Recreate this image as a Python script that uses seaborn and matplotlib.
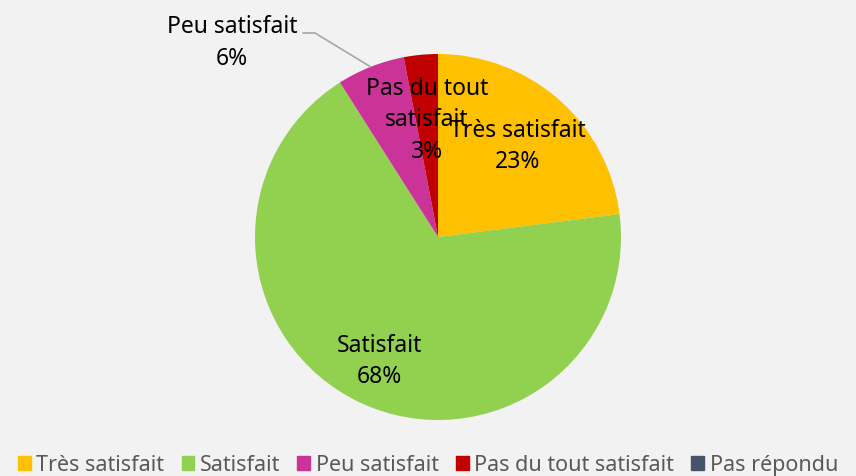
import matplotlib
matplotlib.use("Agg")
import matplotlib.pyplot as plt
import matplotlib.patches as mpatches
import numpy as np
import seaborn as sns

categories = ["Très satisfait", "Satisfait", "Peu satisfait", "Pas du tout satisfait", "Pas répondu"]
values = [23, 68, 6, 3, 0]
inner_labels = ["Très satisfait", "Satisfait", "Peu satisfait", "Pas du tout\nsatisfait", "Pas répondu"]
colors = ["#FFC000", "#92D050", "#CC3399", "#C00000", "#44546A"]

sns.set_theme(style="white")
plt.rcParams["font.family"] = ["Noto Sans", "DejaVu Sans"]
bg = "#F2F2F2"

fig = plt.figure(figsize=(8.56, 4.76), dpi=100, facecolor=bg)
ax = fig.add_axes([0, 0, 1, 1])
ax.set_facecolor(bg)

cx, cy, R = 438, 239, 183
wedges, _ = ax.pie(values, colors=colors, startangle=90, counterclock=False,
                   center=(cx, cy), radius=R, frame=True,
                   wedgeprops=dict(linewidth=0))
ax.set_xlim(0, 856)
ax.set_ylim(0, 476)
ax.set_aspect("equal")
ax.axis("off")

total = sum(values)
# label radius as a fraction of R, per slice (None = outside with leader line)
dist = [0.66, 0.75, None, 0.64, None]
for i, (w, v) in enumerate(zip(wedges, values)):
    if v == 0:
        continue
    mid = np.deg2rad((w.theta1 + w.theta2) / 2)
    pct = f"{round(100 * v / total)}%"
    if dist[i] is not None:
        x = cx + dist[i] * R * np.cos(mid)
        y = cy + dist[i] * R * np.sin(mid)
        ax.text(x, y, f"{inner_labels[i]}\n{pct}", ha="center", va="center",
                fontsize=16.5, color="black", linespacing=1.4)
    else:
        ex = cx + R * np.cos(mid)
        ey = cy + R * np.sin(mid)
        ax.text(232, 433, f"{inner_labels[i]}\n{pct}", ha="center", va="center",
                fontsize=16.5, color="black", linespacing=1.4)
        ax.plot([303, 315, ex], [443, 443, ey], color="#A6A6A6", lw=1.2)

handles = [mpatches.Patch(color=c, label=l) for c, l in zip(colors, categories)]
fig.legend(handles=handles, loc="lower center", ncol=5, frameon=False,
           bbox_to_anchor=(0.5, -0.04), fontsize=15.5, labelcolor="#595959",
           handlelength=0.6, handleheight=0.6, handletextpad=0.25, columnspacing=0.8)

fig.savefig("out.png", dpi=100, facecolor=bg)
